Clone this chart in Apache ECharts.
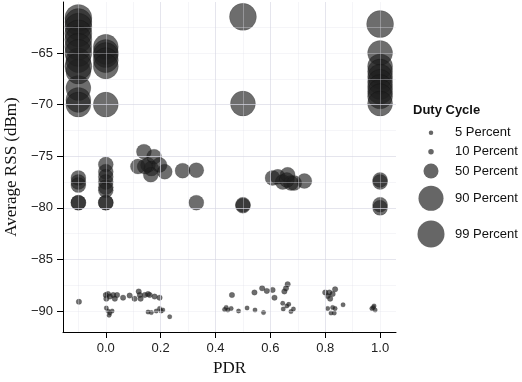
<!DOCTYPE html>
<html>
<head>
<meta charset="utf-8">
<script src="https://cdn.jsdelivr.net/npm/echarts@6/dist/echarts.min.js"></script>
<style>
html, body { margin: 0; padding: 0; background: #fff; }
#chart { width: 522px; height: 382px; }
</style>
</head>
<body>
<div id="chart"></div>
<script>
// 占空比分组
const dutyNames = ['5 Percent', '10 Percent', '50 Percent', '90 Percent', '99 Percent'];

// [PDR, Average RSS] 每组数据
const dc5 = [
    [0.002, -89.7], [0.008, -90.0], [0.015, -90.2], [0.023, -90.0], [0.012, -90.4],
    [0.154, -90.1], [0.166, -90.15], [0.184, -90.0], [0.196, -89.75], [0.202, -90.0],
    [0.208, -89.9], [0.233, -90.55], [0.433, -89.85], [0.445, -89.9], [0.439, -89.65],
    [0.457, -89.75], [0.484, -90.0], [0.515, -89.7], [0.544, -89.9], [0.575, -90.15],
    [0.645, -89.25], [0.647, -89.8], [0.66, -89.5], [0.667, -89.35], [0.675, -90.05],
    [0.684, -89.8], [0.809, -89.75], [0.827, -89.65], [0.836, -89.75], [0.821, -90.2],
    [0.833, -90.2], [0.865, -89.4], [0.97, -89.75], [0.978, -89.5], [0.982, -89.9],
    [0.975, -89.65]
];
const dc10 = [
    [-0.098, -89.1], [0.0, -88.45], [0.008, -88.35], [0.015, -88.6], [0.027, -88.45],
    [0.041, -88.45], [0.002, -88.8], [0.033, -88.8], [0.063, -88.7], [0.087, -88.5],
    [0.105, -88.8], [0.12, -88.1], [0.124, -88.45], [0.127, -88.8], [0.142, -88.45],
    [0.154, -88.35], [0.16, -88.45], [0.178, -88.6], [0.196, -88.7], [0.46, -88.45],
    [0.542, -88.2], [0.57, -87.8], [0.587, -88.05], [0.608, -87.95], [0.615, -88.7],
    [0.651, -88.1], [0.657, -87.8], [0.663, -87.4], [0.8, -88.2], [0.809, -88.55],
    [0.815, -88.2], [0.827, -88.35], [0.836, -87.9], [0.818, -88.8]
];
const dc50 = [
    [-0.1, -77.1], [-0.1, -77.5], [-0.1, -77.8], [-0.1, -79.5], [-0.1, -79.5],
    [0.0, -75.8], [0.0, -76.5], [0.0, -77.0], [0.0, -77.5], [0.0, -78.0], [0.0, -78.3],
    [0.0, -79.5], [0.0, -79.5],
    [0.139, -74.56], [0.176, -75.05], [0.117, -76.0], [0.154, -75.85], [0.166, -76.2],
    [0.196, -75.85], [0.215, -76.5], [0.164, -76.8], [0.142, -76.0], [0.28, -76.4],
    [0.33, -76.35], [0.33, -79.5],
    [0.5, -79.7], [0.5, -79.8],
    [0.608, -77.1], [0.627, -77.0], [0.645, -77.5], [0.663, -76.8], [0.675, -77.6],
    [0.687, -77.6], [0.724, -77.4], [0.66, -77.3],
    [1.0, -77.3], [1.0, -77.5], [1.0, -79.7], [1.0, -80.0]
];
const dc90 = [
    [-0.1, -65.7], [-0.1, -66.8], [-0.1, -68.4], [-0.1, -69.55], [-0.1, -70.0],
    [0.0, -64.4], [0.0, -64.9], [0.0, -65.2], [0.0, -65.7], [0.0, -66.3], [0.0, -70.0],
    [0.5, -69.9],
    [1.0, -65.0], [1.0, -66.3], [1.0, -66.8], [1.0, -67.3], [1.0, -67.8], [1.0, -68.3],
    [1.0, -68.75], [1.0, -69.2], [1.0, -69.9]
];
const dc99 = [
    [-0.1, -61.6], [-0.1, -62.0], [-0.1, -62.45], [-0.1, -63.1], [-0.1, -63.7],
    [-0.1, -64.4], [-0.1, -65.0], [-0.1, -66.3],
    [0.5, -61.5],
    [1.0, -62.2]
];
const seriesData = [dc5, dc10, dc50, dc90, dc99];

// 刻度
const xTicks = [0, 0.2, 0.4, 0.6, 0.8, 1.0];
const yTicks = [-90, -85, -80, -75, -70, -65];

const xMin = -0.156, xMax = 1.058;
const yMin = -92.03, yMax = -60.06;

const dotSizes = [4.5, 5.5, 15, 25, 27];
const legendCentreY = [132.7, 151.7, 171, 198.3, 234];
const legendCentreX = 431;

const sansFont = 'Liberation Sans, Arial, sans-serif';
const serifFont = 'Liberation Serif, Times New Roman, serif';
const majorGrid = 'rgba(215, 215, 228, 0.55)';
const minorGrid = 'rgba(225, 225, 235, 0.35)';

// 次网格线用的辅助坐标（y 方向每 2.5 一条）
const yMinorBase = -92.5, yMinorStep = 2.5;

const chart = echarts.init(document.getElementById('chart'), null, { renderer: 'canvas' });

const series = dutyNames.map((name, i) => ({
    name: name,
    type: 'scatter',
    data: seriesData[i],
    symbol: 'circle',
    symbolSize: dotSizes[i],
    z: 2,
    itemStyle: {
        color: '#1e1e1e',
        opacity: 0.65,
        borderColor: 'rgba(0, 0, 0, 0.45)',
        borderWidth: 0.5
    },
    emphasis: { disabled: true }
}));

// 每个图例单独一个组件，这样圆点大小可以不同
const legends = dutyNames.map((name, i) => {
    const d = dotSizes[i];
    return {
        data: [name],
        left: legendCentreX - d / 2,
        top: legendCentreY[i] - Math.max(d, 13) / 2,
        padding: 0,
        orient: 'vertical',
        itemWidth: 38,
        itemHeight: d,
        selectedMode: false,
        icon: 'circle',
        itemStyle: { color: '#666', opacity: 1, borderWidth: 0 },
        textStyle: { fontFamily: sansFont, fontSize: 13, color: '#111' }
    };
});

const option = {
    animation: false,
    backgroundColor: '#fff',
    title: {
        text: 'Duty Cycle',
        left: 413,
        top: 104,
        padding: 0,
        textStyle: { fontFamily: sansFont, fontSize: 13, fontWeight: 'bold', color: '#111' }
    },
    legend: legends,
    grid: {
        left: 63,
        right: 126,
        top: 2,
        bottom: 50,
        containLabel: false,
        outerBoundsMode: 'none'
    },
    xAxis: [
        {
            type: 'value',
            min: xMin,
            max: xMax,
            z: 5,
            axisLine: { show: true, onZero: false, lineStyle: { color: '#000', width: 1 } },
            axisTick: { show: true, length: 6, customValues: xTicks, lineStyle: { color: '#000' } },
            axisLabel: {
                customValues: xTicks,
                formatter: v => v.toFixed(1),
                margin: 10,
                fontFamily: sansFont,
                fontSize: 13,
                color: '#222'
            },
            splitLine: { show: true, showMinLine: false, showMaxLine: false, lineStyle: { color: majorGrid } },
            name: 'PDR',
            nameLocation: 'middle',
            nameGap: 28,
            nameTextStyle: { fontFamily: serifFont, fontSize: 17, color: '#111' }
        },
        {
            type: 'value',
            position: 'top',
            min: xMin,
            max: xMax,
            splitNumber: 12,
            z: 4,
            axisLine: { show: false },
            axisTick: { show: false },
            axisLabel: { show: false },
            splitLine: { show: true, showMinLine: false, showMaxLine: false, lineStyle: { color: minorGrid } }
        }
    ],
    yAxis: [
        {
            type: 'value',
            min: yMin,
            max: yMax,
            z: 5,
            axisLine: { show: true, onZero: false, lineStyle: { color: '#000', width: 1 } },
            axisTick: { show: true, length: 6, customValues: yTicks, lineStyle: { color: '#000' } },
            axisLabel: {
                customValues: yTicks,
                formatter: v => (v < 0 ? '\u2212' : '') + Math.abs(v),
                margin: 10,
                fontFamily: sansFont,
                fontSize: 13,
                color: '#222'
            },
            splitLine: { show: true, showMinLine: false, showMaxLine: false, lineStyle: { color: majorGrid } },
            name: 'Average RSS (dBm)',
            nameLocation: 'middle',
            nameGap: 38,
            nameTextStyle: { fontFamily: serifFont, fontSize: 17, color: '#111' }
        },
        {
            type: 'value',
            position: 'right',
            min: (yMin - yMinorBase) / yMinorStep,
            max: (yMax - yMinorBase) / yMinorStep,
            splitNumber: 12,
            z: 4,
            axisLine: { show: false },
            axisTick: { show: false },
            axisLabel: { show: false },
            splitLine: { show: true, showMinLine: false, showMaxLine: false, lineStyle: { color: minorGrid } }
        }
    ],
    series: series
};

chart.setOption(option);

window.addEventListener('resize', () => {
    chart.resize();
});
</script>
</body>
</html>
